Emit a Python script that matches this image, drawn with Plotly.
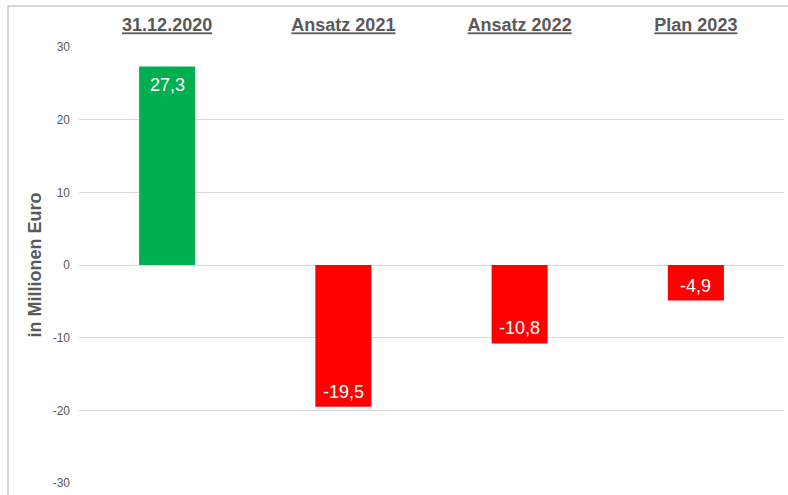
import plotly.graph_objects as go

categories = ["31.12.2020", "Ansatz 2021", "Ansatz 2022", "Plan 2023"]
values = [27.3, -19.5, -10.8, -4.9]
colors = ["#00b050", "#ff0000", "#ff0000", "#ff0000"]
tick_vals = [-30, -20, -10, 0, 10, 20, 30]
tick_text = ["-30", "-20", "-10", "0", "10", "20", "30"]
y_title = "in Millionen Euro"

def fmt(v):
    return f"{v:.1f}".replace(".", ",")

FONT = "Liberation Sans, Arial, sans-serif"
GRAY = "#595959"

fig = go.Figure()
fig.add_trace(go.Bar(
    x=categories, y=values,
    marker=dict(color=colors, line=dict(width=0)),
    width=0.318,
    hoverinfo="skip",
))

for c, v in zip(categories, values):
    fig.add_annotation(
        x=c, y=v, text=fmt(v), showarrow=False,
        yshift=-18 if v > 0 else 15,
        font=dict(family=FONT, size=18, color="white"),
    )

# outer chart border (top and left visible)
fig.add_shape(type="rect", xref="paper", yref="paper",
              x0=-0.1007, x1=1.2, y0=-0.3, y1=1.094,
              line=dict(color="#c8c8c8", width=1.5), fillcolor="rgba(0,0,0,0)",
              layer="below")

fig.update_layout(
    width=788, height=495,
    margin=dict(l=79, r=4, t=47, b=12),
    paper_bgcolor="white", plot_bgcolor="white",
    showlegend=False,
    font=dict(family=FONT, color=GRAY),
    xaxis=dict(
        side="top",
        tickmode="array",
        tickvals=categories,
        ticktext=[f"<b><u>{c}</u></b>" for c in categories],
        tickfont=dict(size=18, color=GRAY),
        ticks="", showgrid=False, showline=False, zeroline=False,
        ticklabelstandoff=11,
    ),
    yaxis=dict(
        range=[-30, 30],
        tickmode="array", tickvals=tick_vals, ticktext=tick_text,
        tickfont=dict(size=12, color=GRAY),
        showgrid=True, gridcolor="#d9d9d9", gridwidth=1,
        zeroline=True, zerolinecolor="#d9d9d9", zerolinewidth=1,
        showline=False, ticks="", ticklabelstandoff=8,
        title=dict(text=f"<b>{y_title}</b>", font=dict(size=18, color=GRAY), standoff=6),
    ),
)

fig.write_html("out.html")
